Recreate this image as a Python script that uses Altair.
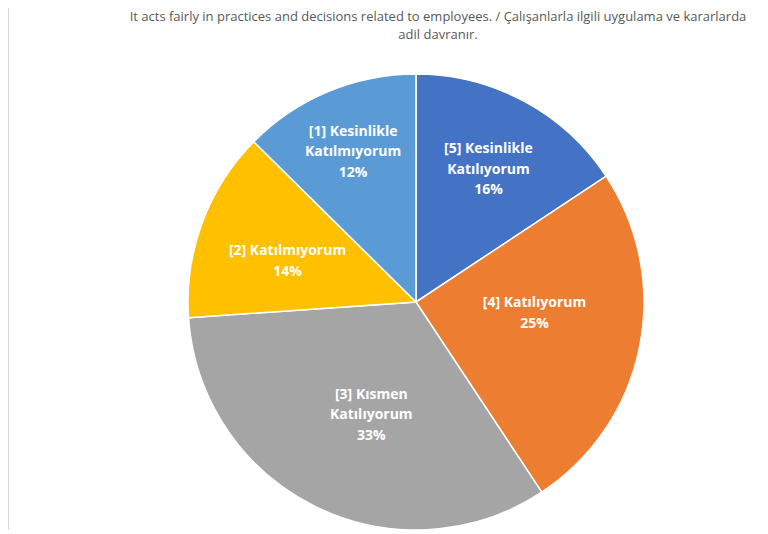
import altair as alt
import pandas as pd

categories = ["[5] Kesinlikle Katılıyorum", "[4] Katılıyorum", "[3] Kısmen Katılıyorum",
              "[2] Katılmıyorum", "[1] Kesinlikle Katılmıyorum"]
label_lines = [["[5] Kesinlikle", "Katılıyorum"], ["[4] Katılıyorum"], ["[3] Kısmen", "Katılıyorum"],
               ["[2] Katılmıyorum"], ["[1] Kesinlikle", "Katılmıyorum"]]
values = [15.7, 25.0, 33.2, 13.5, 12.6]
pct_labels = ["16%", "25%", "33%", "14%", "12%"]
colors = ["#4472C4", "#ED7D31", "#A5A5A5", "#FFC000", "#5B9BD5"]
title_lines = ["It acts fairly in practices and decisions related to employees.  / Çalışanlarla ilgili uygulama ve kararlarda",
               "adil davranır."]

# label placement style (distance from centre and nudge, like Excel's data-label layout)
label_radius = [153, 121, 119, 137, 163]
label_dx = [0, 0, 8, 0, 0]
label_dy = [2.5, -12.5, 6.5, 7, 0.5]

df = pd.DataFrame({
    "cat": categories,
    "val": values,
    "order": list(range(len(categories))),
    "label": ["\n".join(l + [p]) for l, p in zip(label_lines, pct_labels)],
})

cx, cy, R = 408, 286, 228
LH = 20.5

base = alt.Chart(df).encode(
    theta=alt.Theta("val:Q", stack=True),
    order=alt.Order("order:Q"),
)

pie = base.mark_arc(outerRadius=R, stroke="white", strokeWidth=1.5).encode(
    x=alt.value(cx), y=alt.value(cy),
    color=alt.Color("cat:N", scale=alt.Scale(domain=categories, range=colors), legend=None),
)

label_layers = []
for i, cat in enumerate(categories):
    n = len(label_lines[i]) + 1
    label_layers.append(
        base.mark_text(radius=label_radius[i], color="white", font="Open Sans", fontWeight="bold",
                       fontSize=14, lineBreak="\n", lineHeight=LH, baseline="middle",
                       dx=label_dx[i], dy=label_dy[i] - (n - 1) * LH / 2).encode(
            x=alt.value(cx), y=alt.value(cy),
            text="label:N",
            opacity=alt.condition(alt.datum.cat == cat, alt.value(1), alt.value(0)),
        )
    )

tdf = pd.DataFrame({"t": title_lines, "i": [0, 1]})
title = alt.Chart(tdf).mark_text(font="Open Sans", fontSize=13, color="#595959", baseline="middle").encode(
    x=alt.value(430),
    y=alt.Y("i:Q", scale=alt.Scale(domain=[0, 1], range=[1, 18.5]), axis=None),
    text="t:N",
)

border = alt.Chart(pd.DataFrame({"a": [0]})).mark_rule(color="#D9D9D9", strokeWidth=1).encode(
    x=alt.value(0.5), y=alt.value(-8), y2=alt.value(514)
)

chart = alt.layer(border, pie, *label_layers, title).properties(
    width=752, height=518, autosize="none",
    padding={"left": 0, "top": 8, "right": 0, "bottom": 0}
).configure_view(stroke=None)

chart.save("out.html", embed_options={"renderer": "svg", "actions": False})
